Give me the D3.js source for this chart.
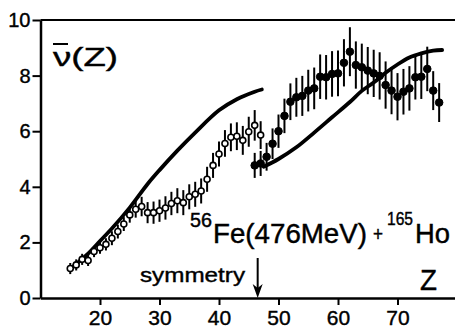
<!DOCTYPE html>
<html>
<head>
<meta charset="utf-8">
<script src="https://cdn.jsdelivr.net/npm/d3@7"></script>
<style>
  html, body { margin: 0; padding: 0; background: #fff; }
  svg { display: block; font-family: "Liberation Sans", Arial, sans-serif; }
</style>
</head>
<body>
<figure id="chart" style="margin:0"></figure>
<script>
// open circles: light-fragment side
const zOpen = [15, 16, 17, 18, 19, 20, 21, 22, 23, 24, 25, 26, 27, 28, 29, 30, 31,
  32, 33, 34, 35, 36, 37, 38, 39, 40, 41, 42, 43, 44, 45, 46, 47];
const nuOpen = [1.06, 1.19, 1.39, 1.35, 1.67, 1.81, 1.93, 2.15, 2.39, 2.66, 2.99, 3.19,
  3.29, 3.07, 3.07, 3.14, 3.24, 3.4, 3.5, 3.43, 3.64, 3.73, 3.85, 4.27, 4.77, 5.18,
  5.56, 5.78, 5.82, 5.67, 5.98, 6.21, 5.86];
const errOpen = [0.2, 0.2, 0.2, 0.2, 0.2, 0.22, 0.22, 0.25, 0.25, 0.25, 0.28, 0.3,
  0.35, 0.38, 0.4, 0.4, 0.42, 0.42, 0.45, 0.45, 0.45, 0.45, 0.45, 0.45, 0.45, 0.45,
  0.48, 0.5, 0.5, 0.52, 0.54, 0.55, 0.5];

// filled circles: heavy-fragment side
const zFull = [46, 47, 48, 49, 50, 51, 52, 53, 54, 55, 56, 57, 58, 59, 60, 61, 62,
  63, 64, 65, 66, 67, 68, 69, 70, 71, 72, 73, 74, 75, 76, 77];
const nuFull = [4.77, 4.84, 5.08, 5.55, 6.0, 6.55, 7.06, 7.22, 7.27, 7.46, 7.54, 7.96,
  7.94, 8.06, 8.08, 8.46, 8.86, 8.38, 8.3, 8.18, 8.08, 7.99, 7.66, 7.46, 7.24, 7.42,
  7.54, 7.94, 7.96, 8.24, 7.46, 7.03];
const errFull = [0.45, 0.45, 0.5, 0.55, 0.6, 0.62, 0.66, 0.7, 0.72, 0.75, 0.75, 0.8,
  0.8, 0.82, 0.82, 0.85, 0.88, 0.85, 0.85, 0.85, 0.85, 0.85, 0.85, 0.85, 0.85, 0.82,
  0.8, 0.8, 0.8, 0.8, 0.7, 0.7];

// calculated curves
const zCalcLight = [15, 18, 20, 22, 25, 28, 30, 33, 36, 40, 43, 46, 47.2];
const nuCalcLight = [1.05, 1.6, 2.05, 2.5, 3.25, 4.1, 4.6, 5.3, 5.95, 6.75, 7.15, 7.42, 7.5];
const zCalcHeavy = [47.5, 50, 53, 56, 59, 62, 64, 66, 68, 70, 72, 74, 76, 77.5];
const nuCalcHeavy = [4.72, 5.0, 5.42, 5.95, 6.5, 7.05, 7.45, 7.75, 8.1, 8.4, 8.65, 8.8, 8.9, 8.92];

const xTicks = [20, 30, 40, 50, 60, 70];
const yTicks = [0, 2, 4, 6, 8, 10];
const zSymmetry = 46.5;

const width = 455, height = 329;

const x = d3.scaleLinear().domain([10, 80]).range([40.5, 457]);
const y = d3.scaleLinear().domain([0, 10]).range([298, 20]);

const svg = d3.select("#chart").append("svg")
  .attr("width", width)
  .attr("height", height);

// axes
const xAxis = svg.append("g")
  .attr("transform", `translate(0,${y(0)})`)
  .call(d3.axisBottom(x).tickValues(xTicks).tickSize(7).tickSizeOuter(0).tickPadding(5));
const yAxis = svg.append("g")
  .attr("transform", `translate(${x(10)},0)`)
  .call(d3.axisLeft(y).tickValues(yTicks).tickSize(8).tickSizeOuter(0).tickPadding(2));

xAxis.selectAll("text").attr("font-size", 21);
yAxis.selectAll("text").attr("font-size", 20);
svg.selectAll(".tick text")
  .attr("font-family", "Liberation Sans, Arial, sans-serif")
  .attr("fill", "#000")
  .attr("stroke", "#000")
  .attr("stroke-width", 0.4);
svg.selectAll(".domain").attr("stroke", "#000").attr("stroke-width", 2.5);
svg.selectAll(".tick line").attr("stroke", "#000").attr("stroke-width", 2);

// top frame line
svg.append("line")
  .attr("x1", x(10)).attr("x2", width)
  .attr("y1", y(10)).attr("y2", y(10))
  .attr("stroke", "#000").attr("stroke-width", 2.2);

// calculated curves
const line = d3.line()
  .x(d => x(d[0]))
  .y(d => y(d[1]))
  .curve(d3.curveCatmullRom);

[[zCalcLight, nuCalcLight], [zCalcHeavy, nuCalcHeavy]].forEach(([zs, vs]) => {
  svg.append("path")
    .datum(zs.map((z, i) => [z, vs[i]]))
    .attr("d", line)
    .attr("fill", "none")
    .attr("stroke", "#000")
    .attr("stroke-width", 3.8)
    .attr("stroke-linecap", "round");
});

// error bars + markers
function drawSeries(zs, vs, es, filled) {
  const data = zs.map((z, i) => ({ z, v: vs[i], e: es[i] }));
  const g = svg.append("g");
  g.selectAll("line.err")
    .data(data)
    .enter()
    .append("line")
    .attr("x1", d => x(d.z)).attr("x2", d => x(d.z))
    .attr("y1", d => y(d.v + d.e)).attr("y2", d => y(d.v - d.e))
    .attr("stroke", "#000")
    .attr("stroke-width", 2);
  g.selectAll("circle")
    .data(data)
    .enter()
    .append("circle")
    .attr("cx", d => x(d.z))
    .attr("cy", d => y(d.v))
    .attr("r", filled ? 3.8 : 3)
    .attr("fill", filled ? "#000" : "#fff")
    .attr("stroke", "#000")
    .attr("stroke-width", filled ? 1 : 1.6);
}
drawSeries(zOpen, nuOpen, errOpen, false);
drawSeries(zFull, nuFull, errFull, true);

// labels
const lab = (txt, px, py, size, len) => svg.append("text")
  .attr("x", px).attr("y", py)
  .attr("font-size", size)
  .attr("fill", "#000")
  .attr("stroke", "#000")
  .attr("stroke-width", 0.4)
  .attr("textLength", len)
  .attr("lengthAdjust", "spacingAndGlyphs")
  .text(txt);

lab("ν(Z)", 53, 66, 26, 65);
svg.append("line")
  .attr("x1", 53).attr("x2", 68)
  .attr("y1", 44).attr("y2", 44)
  .attr("stroke", "#000").attr("stroke-width", 2);

// reaction label as one text with positioned pieces
const reaction = svg.append("text")
  .attr("fill", "#000")
  .attr("stroke", "#000")
  .attr("stroke-width", 0.45);
[
  ["56", 190, 227, 20, 22],
  ["Fe(476MeV)", 213, 243, 28, 154],
  ["+", 373, 241, 21, 10],
  ["165", 387, 225, 19, 26],
  ["Ho", 415, 243, 28, 35]
].forEach(([t, px, py, size, len]) => {
  reaction.append("tspan")
    .attr("x", px).attr("y", py)
    .attr("font-size", size)
    .attr("textLength", len)
    .attr("lengthAdjust", "spacingAndGlyphs")
    .text(t);
});

lab("symmetry", 140, 282, 21, 105);
lab("Z", 420, 290, 30, 17);

// symmetry arrow
const xs = x(zSymmetry);
svg.append("line")
  .attr("x1", xs).attr("x2", xs)
  .attr("y1", 258).attr("y2", 292)
  .attr("stroke", "#000").attr("stroke-width", 2);
svg.append("path")
  .attr("d", `M${xs - 5},284 L${xs},298 L${xs + 5},284 L${xs},288 Z`)
  .attr("fill", "#000");
</script>
</body>
</html>
